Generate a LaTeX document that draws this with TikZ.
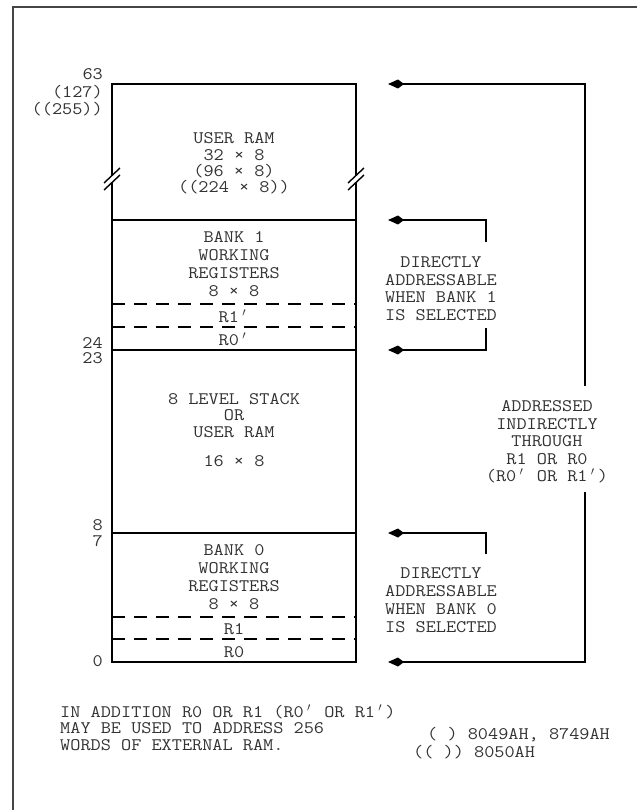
\documentclass[tikz,border=0pt]{standalone}
\usepackage{fontspec}
\setmainfont{Latin Modern Mono}[FakeStretch=1.12]
\usetikzlibrary{arrows.meta,positioning,calc}
\definecolor{txtgray}{HTML}{333333}
\definecolor{framegray}{HTML}{454545}
\newcommand{\memfont}[1][17.6]{\fontsize{17.6pt}{#1pt}\selectfont}
\newcommand{\pr}{\makebox[0.588em][c]{$'$}}

\begin{document}
\begin{tikzpicture}[x=1pt, y=-1pt,
  region/.style={draw, line width=2.4pt, minimum width=244pt, inner sep=0pt, outer sep=0pt},
  lbl/.style={font=\memfont, text=txtgray, inner sep=0pt, align=center},
  addr/.style={line width=1.3pt, -{Kite[length=16pt,width=9pt,inset=6pt]}},
  divider/.style={line width=1.2pt, dash pattern=on 13pt off 9pt},
  cutmark/.style={line width=1.4pt},
  digit/.style={lbl, anchor=east, text height=9pt, text depth=0pt}
]
  \useasboundingbox (0,0) rectangle (637,810);
  \draw[framegray, line width=2pt] (13,810) -- (13,7) -- (637,7);

  % memory map
  \node[region, minimum height=136pt] (userram) at (234,152) {};
  \node[region, minimum height=130pt] (bank1) at (234,285) {};
  \node[region, minimum height=183pt] (stack) at (234,441.5) {};
  \node[region, minimum height=129pt] (bank0) at (234,597.5) {};

  \draw[divider] ([yshift=46pt]bank1.south west) -- ([yshift=46pt]bank1.south east);
  \draw[divider] ([yshift=23pt]bank1.south west) -- ([yshift=23pt]bank1.south east);
  \draw[divider] ([yshift=45pt]bank0.south west) -- ([yshift=45pt]bank0.south east);
  \draw[divider] ([yshift=23pt]bank0.south west) -- ([yshift=23pt]bank0.south east);

  % break marks
  \foreach \side in {west,east} {
    \coordinate (cut) at ([yshift=-27pt]userram.\side);
    \fill[white] ($(cut)+(-1.6,-3.5)$) rectangle ($(cut)+(1.6,3.5)$);
    \draw[cutmark] ($(cut)+(-8,4)$) -- ($(cut)+(8,-11)$);
    \draw[cutmark] ($(cut)+(-8,11)$) -- ($(cut)+(8,-4)$);
  }

  \node[lbl, font={\memfont[16.3]}] (userramtxt) at (234,163.5) {USER RAM\\32 × 8\\(96 × 8)\\((224 × 8))};
  \node[lbl, font={\memfont[18]}] (bank1txt) at (234,264) {BANK 1\\WORKING\\REGISTERS\\8 × 8};
  \node[lbl] (r1p) at (234,316) {R1\pr};
  \node[lbl] (r0p) at (234,339) {R0\pr};
  \node[lbl, font={\memfont[16.5]}] (stacktxt) at (234,415.5) {8 LEVEL STACK\\OR\\USER RAM};
  \node[lbl] (stacksize) at (234,461) {16 × 8};
  \node[lbl, font={\memfont[18]}] (bank0txt) at (234,577) {BANK 0\\WORKING\\REGISTERS\\8 × 8};
  \node[lbl] (r1) at (234,629) {R1};
  \node[lbl] (r0) at (234,652) {R0};

  % addresses
  \node[lbl, anchor=east, align=right, font={\memfont[17.5]}] (a63) at (103,92.5) {63\\(127)\\((255))};
  \node[digit] (a24) at (103,344) {24};
  \node[digit] (a23) at (103,359) {23};
  \node[digit] (a8) at (103,525.5) {8};
  \node[digit] (a7) at (103,541.5) {7};
  \node[digit] (a0) at (103,662) {0};

  % addressing notes
  \node[lbl, font={\memfont[17.7]}] (b1note) at (441,288.5) {DIRECTLY\\ADDRESSABLE\\WHEN BANK 1\\IS SELECTED};
  \node[lbl, font={\memfont[18]}] (b0note) at (441,600) {DIRECTLY\\ADDRESSABLE\\WHEN BANK 0\\IS SELECTED};
  \node[lbl, font={\memfont[17.5]}] (indnote) at (547,442) {ADDRESSED\\INDIRECTLY\\THROUGH\\R1 OR R0\\(R0\pr{} OR R1\pr)};

  \coordinate (rail) at (585,84);
  \coordinate (bracket) at (486,220);

  \draw[addr] ([yshift=15pt]indnote.north -| rail) -- (rail) -- ([xshift=32pt]userram.north east);
  \draw[addr] ([yshift=-9pt]indnote.south -| rail) |- ([xshift=32pt]bank0.south east);
  \draw[addr] ([yshift=14pt]b1note.north -| bracket) |- ([xshift=32pt]bank1.north east);
  \draw[addr] ([yshift=-7pt]b1note.south -| bracket) |- ([xshift=32pt]bank1.south east);
  \draw[addr] ([yshift=13pt]b0note.north -| bracket) |- ([xshift=32pt]bank0.north east);

  % footnotes
  \node[lbl, anchor=west, align=left, font={\memfont[16.5]}] (extram) at (60,727.5) {IN ADDITION R0 OR R1 (R0\pr{} OR R1\pr)\\MAY BE USED TO ADDRESS 256\\WORDS OF EXTERNAL RAM.};
  \node[lbl, anchor=west] (single) at (427,735) {( ) 8049AH, 8749AH};
  \node[lbl, anchor=west] (double) at (413,752) {(( )) 8050AH};
\end{tikzpicture}
\end{document}
